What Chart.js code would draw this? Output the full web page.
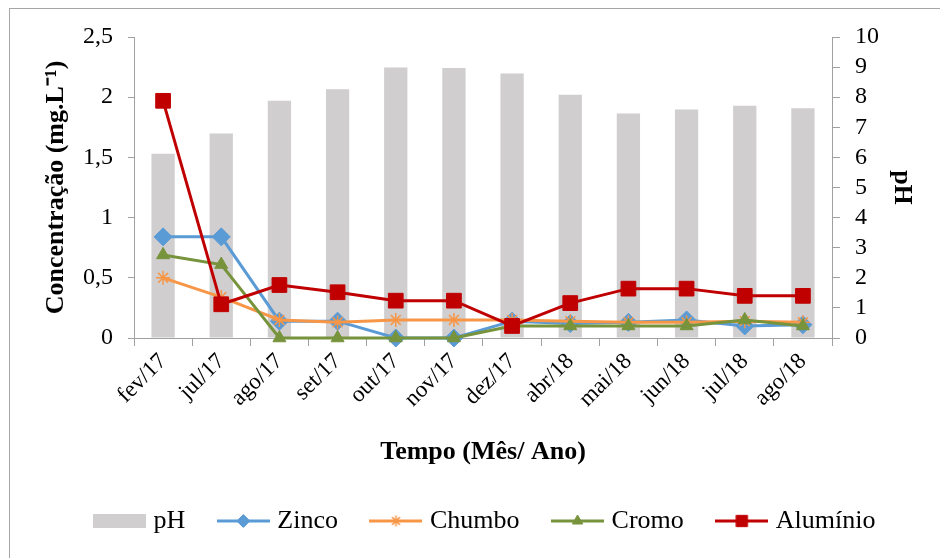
<!DOCTYPE html>
<html>
<head>
<meta charset="utf-8">
<script src="https://cdn.jsdelivr.net/npm/chart.js@4/dist/chart.umd.min.js"></script>
<style>
  html, body { margin: 0; padding: 0; background: #fff; }
  #wrap { position: relative; width: 940px; height: 558px; overflow: hidden; }
  #frame { position: absolute; left: 9px; top: 8px; width: 1000px; height: 600px; border: 1px solid #a6a6a6; }
  canvas { position: absolute; left: 0; top: 0; }
</style>
</head>
<body>
<div id="wrap">
  <div id="frame"></div>
  <canvas id="chart" width="940" height="558"></canvas>
</div>
<script>
// data
const months = ['fev/17', 'jul/17', 'ago/17', 'set/17', 'out/17', 'nov/17', 'dez/17', 'abr/18', 'mai/18', 'jun/18', 'jul/18', 'ago/18'];
const ph = [6.12, 6.79, 7.88, 8.26, 8.99, 8.97, 8.79, 8.08, 7.46, 7.59, 7.72, 7.63];
const zinco = [0.84, 0.84, 0.14, 0.14, 0, 0, 0.14, 0.12, 0.13, 0.15, 0.10, 0.11];
const chumbo = [0.50, 0.34, 0.15, 0.13, 0.15, 0.15, 0.15, 0.14, 0.13, 0.13, 0.14, 0.13];
const cromo = [0.69, 0.61, 0, 0, 0, 0, 0.10, 0.10, 0.10, 0.10, 0.15, 0.10];
const aluminio = [1.97, 0.28, 0.44, 0.38, 0.31, 0.31, 0.10, 0.29, 0.41, 0.41, 0.35, 0.35];

const FONT = 'Liberation Serif';
const axisColor = '#a0a0a0';
Chart.defaults.font.family = FONT;
Chart.defaults.color = '#000';

function legendIcon(color, style, r, bw) {
  const c = document.createElement('canvas');
  c.width = 53; c.height = 20;
  const ctx = c.getContext('2d');
  ctx.fillStyle = color;
  ctx.strokeStyle = color;
  if (style === 'bar') {
    ctx.fillRect(0, 3, 53, 14);
    return c;
  }
  ctx.lineWidth = 3;
  ctx.beginPath();
  ctx.moveTo(0, 10);
  ctx.lineTo(53, 10);
  ctx.stroke();
  ctx.lineWidth = bw;
  Chart.helpers.drawPoint(ctx, {pointStyle: style, radius: r, borderWidth: bw, rotation: 0}, 26.5, 10);
  return c;
}

function lineSet(label, data, color, style, r, lr, order) {
  return {
    type: 'line',
    label: label,
    data: data,
    yAxisID: 'y',
    borderColor: color,
    backgroundColor: color,
    borderWidth: 3,
    pointStyle: style,
    pointRadius: r,
    pointHoverRadius: r,
    pointBorderWidth: style === 'star' ? 1.5 : 1,
    pointBackgroundColor: color,
    pointBorderColor: color,
    tension: 0,
    clip: false,
    order: order,
    _icon: legendIcon(color, style, lr, style === 'star' ? 1.5 : 1)
  };
}

const datasets = [
  {
    type: 'bar',
    label: 'pH',
    data: ph,
    yAxisID: 'y1',
    backgroundColor: '#d0cece',
    barPercentage: 0.4,
    categoryPercentage: 1,
    order: 10,
    _icon: legendIcon('#d0cece', 'bar')
  },
  lineSet('Zinco', zinco, '#5b9bd5', 'rectRot', 9, 6.5, 4),
  lineSet('Chumbo', chumbo, '#f79646', 'star', 7, 5.5, 3),
  lineSet('Cromo', cromo, '#77933c', 'triangle', 7.5, 6, 2),
  lineSet('Alumínio', aluminio, '#c00000', 'rect', 10.4, 8, 1)
];

const config = {
  type: 'bar',
  data: { labels: months, datasets: datasets },
  options: {
    responsive: false,
    animation: false,
    layout: { padding: { left: 34, top: 37, right: 0, bottom: 14 } },
    plugins: {
      tooltip: { enabled: false },
      legend: {
        position: 'bottom',
        labels: {
          usePointStyle: true,
          pointStyleWidth: 42,
          padding: 37,
          color: '#000',
          font: { family: FONT, size: 26 },
          generateLabels: function(chart) {
            return chart.data.datasets.map(function(ds, i) {
              return {
                text: ds.label,
                pointStyle: ds._icon,
                fillStyle: ds.backgroundColor,
                strokeStyle: ds.backgroundColor,
                lineWidth: 0,
                hidden: false,
                fontColor: '#000',
                datasetIndex: i
              };
            });
          }
        }
      }
    },
    scales: {
      x: {
        offset: true,
        grid: { display: true, offset: true, drawOnChartArea: false, drawTicks: true, tickLength: 8, color: axisColor },
        border: { color: axisColor, width: 1 },
        ticks: {
          color: '#000',
          font: { family: FONT, size: 23 },
          minRotation: 45,
          maxRotation: 45,
          autoSkip: false,
          padding: 2
        },
        title: {
          display: true,
          text: 'Tempo (Mês/ Ano)',
          color: '#000',
          font: { family: FONT, size: 26, weight: 'bold', lineHeight: 1 },
          padding: { top: 6, bottom: 6 }
        },
        afterFit: function(scale) { scale.height = 133; }
      },
      y: {
        position: 'left',
        min: 0,
        max: 2.5,
        grid: { drawOnChartArea: false, drawTicks: true, tickLength: 6, color: axisColor },
        border: { color: axisColor, width: 1 },
        ticks: {
          stepSize: 0.5,
          autoSkip: false,
          color: '#000',
          padding: 15,
          font: { family: FONT, size: 24 },
          callback: function(v) { return String(v).replace('.', ','); }
        },
        title: {
          display: true,
          text: 'Concentração (mg.L⁻¹)',
          color: '#000',
          font: { family: FONT, size: 26, weight: 'bold', lineHeight: 1 },
          padding: { top: 9, bottom: 9 }
        },
        afterFit: function(scale) { scale.width = 100; }
      },
      y1: {
        position: 'right',
        min: 0,
        max: 10,
        grid: { drawOnChartArea: false, drawTicks: true, tickLength: 8, color: axisColor },
        border: { color: axisColor, width: 1 },
        ticks: {
          stepSize: 1,
          autoSkip: false,
          color: '#000',
          padding: 15,
          font: { family: FONT, size: 24 }
        },
        title: {
          display: true,
          text: 'pH',
          color: '#000',
          font: { family: FONT, size: 26, weight: 'bold', lineHeight: 1 },
          padding: { top: 25, bottom: 25 }
        },
        afterFit: function(scale) { scale.width = 108; }
      }
    }
  }
};

const myChart = new Chart(document.getElementById('chart'), config);
</script>
</body>
</html>
